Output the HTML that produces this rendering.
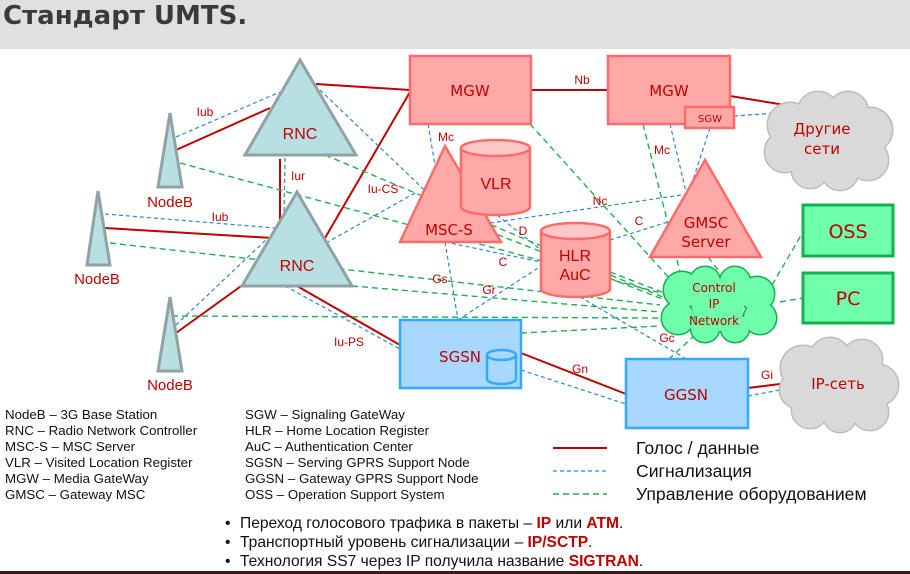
<!DOCTYPE html>
<html><head><meta charset="utf-8"><style>
html,body{margin:0;padding:0;background:#fff;}
svg{display:block;font-family:"Liberation Sans","DejaVu Sans",sans-serif;}
</style></head><body>
<svg width="910" height="574" viewBox="0 0 910 574" xmlns="http://www.w3.org/2000/svg">
<rect x="0" y="0" width="910" height="49" fill="#e0e0e0"/>
<text x="3" y="24" font-size="26" font-weight="bold" fill="#3a3a3a" font-family="DejaVu Sans, sans-serif">Стандарт UMTS.</text>
<rect x="0" y="571" width="910" height="3" fill="#3a1a1a"/>

<g stroke="#c00000" stroke-width="2" fill="none">
<line x1="176" y1="150" x2="270" y2="108"/>
<line x1="316" y1="84" x2="410" y2="90"/>
<line x1="280" y1="159" x2="280" y2="222"/>
<line x1="105" y1="228" x2="272" y2="238"/>
<line x1="176" y1="333" x2="255" y2="276"/>
<line x1="325" y1="238" x2="410" y2="92"/>
<line x1="297" y1="286" x2="400" y2="345"/>
<line x1="531" y1="90" x2="608" y2="90"/>
<line x1="730" y1="96" x2="785" y2="105"/>
<line x1="521" y1="353" x2="626" y2="394"/>
<line x1="748" y1="388" x2="780" y2="384"/>
</g>
<g stroke="#2e86d0" stroke-width="1.2" fill="none" stroke-dasharray="4,3">
<line x1="176" y1="137" x2="280" y2="92"/>
<line x1="320" y1="90" x2="440" y2="205"/>
<line x1="285" y1="158" x2="284" y2="218"/>
<line x1="105" y1="214" x2="275" y2="228"/>
<line x1="176" y1="325" x2="268" y2="238"/>
<line x1="326" y1="243" x2="415" y2="193"/>
<line x1="285" y1="286" x2="400" y2="349"/>
<line x1="428" y1="124" x2="435" y2="165"/>
<line x1="445" y1="242" x2="458" y2="320"/>
<line x1="445" y1="242" x2="541" y2="262"/>
<line x1="497" y1="215" x2="541" y2="250"/>
<line x1="458" y1="320" x2="541" y2="266"/>
<line x1="490" y1="223" x2="688" y2="194"/>
<line x1="610" y1="240" x2="668" y2="222"/>
<line x1="670" y1="124" x2="686" y2="192"/>
<line x1="710" y1="128" x2="693" y2="180"/>
<line x1="734" y1="116" x2="776" y2="113"/>
<line x1="580" y1="297" x2="688" y2="360"/>
<line x1="521" y1="370" x2="626" y2="404"/>
<line x1="748" y1="396" x2="780" y2="390"/>
</g>
<g stroke="#1fb050" stroke-width="1.4" fill="none" stroke-dasharray="6,4">
<line x1="530" y1="124" x2="680" y2="290"/>
<line x1="180" y1="163" x2="668" y2="295"/>
<line x1="325" y1="155" x2="665" y2="298"/>
<line x1="110" y1="243" x2="660" y2="305"/>
<line x1="352" y1="286" x2="660" y2="312"/>
<line x1="172" y1="316" x2="660" y2="318"/>
<line x1="521" y1="333" x2="660" y2="326"/>
<line x1="460" y1="220" x2="665" y2="300"/>
<line x1="610" y1="272" x2="662" y2="292"/>
<line x1="643" y1="124" x2="680" y2="272"/>
<line x1="708" y1="257" x2="718" y2="270"/>
<line x1="772" y1="285" x2="803" y2="232"/>
<line x1="780" y1="302" x2="803" y2="298"/>
<line x1="695" y1="335" x2="668" y2="360"/>
</g>

<g fill="#b8e0e3" stroke="#8fa3a5" stroke-width="3">
<polygon points="300,60 245,155 356,155"/>
<polygon points="297,192 242,286 352,286"/>
<polygon points="170,113 158,187 182,187"/>
<polygon points="98,191 87,265 110,265"/>
<polygon points="170,297 158,371 182,371"/>
</g>
<g fill="#ffa8a8" stroke="#ff6b6b" stroke-width="2.5">
<rect x="410" y="56" width="121" height="68"/>
<rect x="608" y="56" width="122" height="68"/>
<rect x="685" y="107" width="49" height="21"/>
<polygon points="445,146 400,242 501,242"/>
<polygon points="705,160 650,257 761,257"/>
<path d="M461,148 L461,207 A34.5,8 0 0 0 530,207 L530,148"/>
<ellipse cx="495.5" cy="148" rx="34.5" ry="8" fill="#ffc8c8"/>
<path d="M541,231 L541,289 A34.5,8 0 0 0 610,289 L610,231"/>
<ellipse cx="575.5" cy="231" rx="34.5" ry="8" fill="#ffc8c8"/>
</g>
<g fill="#a8d8ff" stroke="#35a9ff" stroke-width="2.5">
<rect x="400" y="320" width="121" height="68"/>
<rect x="626" y="359" width="122" height="69"/>
<path d="M487,355 L487,379 A14.5,5 0 0 0 516,379 L516,355"/>
<ellipse cx="501.5" cy="355" rx="14.5" ry="5"/>
</g>
<g fill="#70ffaa" stroke="#12b050" stroke-width="3">
<rect x="803" y="205" width="90" height="51"/>
<rect x="803" y="273" width="90" height="50"/>
</g>

<g stroke="#bdbdbd" stroke-width="3" fill="#d9d9d9">
<circle cx="790" cy="125" r="22"/><circle cx="818" cy="112" r="20"/><circle cx="848" cy="112" r="20"/><circle cx="870" cy="130" r="22"/><circle cx="868" cy="160" r="20"/><circle cx="840" cy="172" r="18"/><circle cx="810" cy="170" r="18"/><circle cx="785" cy="152" r="20"/>
</g>
<g fill="#d9d9d9"><circle cx="790" cy="125" r="22"/><circle cx="818" cy="112" r="20"/><circle cx="848" cy="112" r="20"/><circle cx="870" cy="130" r="22"/><circle cx="868" cy="160" r="20"/><circle cx="840" cy="172" r="18"/><circle cx="810" cy="170" r="18"/><circle cx="785" cy="152" r="20"/><circle cx="828" cy="142" r="32"/></g>

<g stroke="#bdbdbd" stroke-width="3" fill="#d9d9d9">
<circle cx="803" cy="368" r="22"/><circle cx="830" cy="358" r="20"/><circle cx="862" cy="360" r="20"/><circle cx="878" cy="385" r="20"/><circle cx="870" cy="412" r="18"/><circle cx="840" cy="416" r="16"/><circle cx="810" cy="410" r="18"/><circle cx="798" cy="390" r="18"/>
</g>
<g fill="#d9d9d9"><circle cx="803" cy="368" r="22"/><circle cx="830" cy="358" r="20"/><circle cx="862" cy="360" r="20"/><circle cx="878" cy="385" r="20"/><circle cx="870" cy="412" r="18"/><circle cx="840" cy="416" r="16"/><circle cx="810" cy="410" r="18"/><circle cx="798" cy="390" r="18"/><circle cx="838" cy="388" r="30"/></g>

<g stroke="#12b050" stroke-width="3" fill="#70ffaa">
<circle cx="682" cy="290" r="18"/><circle cx="705" cy="282" r="15"/><circle cx="735" cy="282" r="15"/><circle cx="757" cy="294" r="17"/><circle cx="760" cy="318" r="16"/><circle cx="735" cy="328" r="14"/><circle cx="705" cy="328" r="14"/><circle cx="678" cy="318" r="16"/>
</g>
<g fill="#70ffaa"><circle cx="682" cy="290" r="18"/><circle cx="705" cy="282" r="15"/><circle cx="735" cy="282" r="15"/><circle cx="757" cy="294" r="17"/><circle cx="760" cy="318" r="16"/><circle cx="735" cy="328" r="14"/><circle cx="705" cy="328" r="14"/><circle cx="678" cy="318" r="16"/><circle cx="718" cy="305" r="26"/></g>

<g fill="#c00000" font-size="16" text-anchor="middle">
<text x="300" y="139">RNC</text>
<text x="297" y="271">RNC</text>
<text x="170" y="207" font-size="15">NodeB</text>
<text x="97" y="284" font-size="15">NodeB</text>
<text x="170" y="390" font-size="15">NodeB</text>
<text x="470" y="96" font-family="DejaVu Sans, sans-serif" font-size="15">MGW</text>
<text x="669" y="96" font-family="DejaVu Sans, sans-serif" font-size="15">MGW</text>
<text x="710" y="122" font-family="DejaVu Sans, sans-serif" font-size="10">SGW</text>
<text x="449" y="235" font-family="DejaVu Sans, sans-serif" font-size="15">MSC-S</text>
<text x="496" y="189" font-size="16">VLR</text>
<text x="575" y="261" font-size="16">HLR</text>
<text x="575" y="280" font-size="16">AuC</text>
<text x="706" y="228" font-family="DejaVu Sans, sans-serif" font-size="15">GMSC</text>
<text x="706" y="247" font-family="DejaVu Sans, sans-serif" font-size="15">Server</text>
<text x="822" y="134" font-family="DejaVu Sans, sans-serif" font-size="15">Другие</text>
<text x="822" y="154" font-family="DejaVu Sans, sans-serif" font-size="15">сети</text>
<text x="714" y="292" font-family="DejaVu Sans, sans-serif" font-size="12">Control</text>
<text x="714" y="308" font-family="DejaVu Sans, sans-serif" font-size="12">IP</text>
<text x="714" y="325" font-family="DejaVu Sans, sans-serif" font-size="12">Network</text>
<text x="848" y="238" font-family="DejaVu Sans, sans-serif" font-size="19">OSS</text>
<text x="848" y="305" font-family="DejaVu Sans, sans-serif" font-size="19">PC</text>
<text x="460" y="362" font-family="DejaVu Sans, sans-serif" font-size="15">SGSN</text>
<text x="686" y="400" font-family="DejaVu Sans, sans-serif" font-size="15">GGSN</text>
<text x="838" y="389" font-family="DejaVu Sans, sans-serif" font-size="15">IP-сеть</text>
</g>
<g fill="#c00000" font-size="12" text-anchor="middle">
<text x="205" y="116">Iub</text>
<text x="298" y="180">Iur</text>
<text x="220" y="221">Iub</text>
<text x="383" y="193">Iu-CS</text>
<text x="446" y="141">Mc</text>
<text x="662" y="154">Mc</text>
<text x="582" y="84">Nb</text>
<text x="600" y="205">Nc</text>
<text x="639" y="225">C</text>
<text x="523" y="235">D</text>
<text x="503" y="266">C</text>
<text x="440" y="283">Gs</text>
<text x="489" y="294">Gr</text>
<text x="349" y="346">Iu-PS</text>
<text x="580" y="373">Gn</text>
<text x="667" y="342">Gc</text>
<text x="767" y="379">Gi</text>
</g>

<g fill="#111" font-size="13.3">
<text x="5" y="419">NodeB – 3G Base Station</text>
<text x="5" y="435">RNC – Radio Network Controller</text>
<text x="5" y="451">MSC-S – MSC Server</text>
<text x="5" y="467">VLR – Visited Location Register</text>
<text x="5" y="483">MGW – Media GateWay</text>
<text x="5" y="499">GMSC – Gateway MSC</text>
<text x="245" y="419">SGW – Signaling GateWay</text>
<text x="245" y="435">HLR – Home Location Register</text>
<text x="245" y="451">AuC – Authentication Center</text>
<text x="245" y="467">SGSN – Serving GPRS Support Node</text>
<text x="245" y="483">GGSN – Gateway GPRS Support Node</text>
<text x="245" y="499">OSS – Operation Support System</text>
</g>
<line x1="553" y1="448" x2="607" y2="448" stroke="#c00000" stroke-width="2"/>
<line x1="553" y1="471" x2="607" y2="471" stroke="#2e86d0" stroke-width="1.2" stroke-dasharray="4,3"/>
<line x1="553" y1="494" x2="607" y2="494" stroke="#1fb050" stroke-width="1.4" stroke-dasharray="6,4"/>
<g fill="#111" font-size="17.6">
<text x="636" y="454">Голос / данные</text>
<text x="636" y="477">Сигнализация</text>
<text x="636" y="500">Управление оборудованием</text>
</g>
<g fill="#111" font-size="15.6">
<text x="225" y="528">•</text><text x="240" y="528">Переход голосового трафика в пакеты – <tspan fill="#c00000" font-weight="bold">IP</tspan> или <tspan fill="#c00000" font-weight="bold">ATM</tspan>.</text>
<text x="225" y="547">•</text><text x="240" y="547">Транспортный уровень сигнализации – <tspan fill="#c00000" font-weight="bold">IP/SCTP</tspan>.</text>
<text x="225" y="566">•</text><text x="240" y="566">Технология SS7 через IP получила название <tspan fill="#c00000" font-weight="bold">SIGTRAN</tspan>.</text>
</g>
</svg>
</body></html>
